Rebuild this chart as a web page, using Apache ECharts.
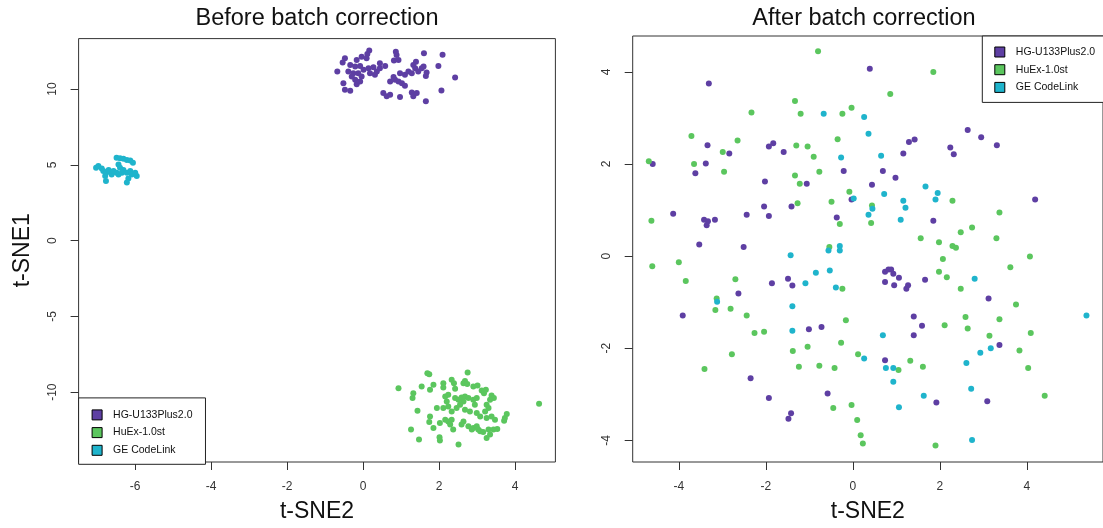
<!DOCTYPE html>
<html>
<head>
<meta charset="utf-8">
<script src="https://cdn.jsdelivr.net/npm/echarts@6/dist/echarts.min.js"></script>
<style>
html,body{margin:0;padding:0;background:#fff;}
#chart{width:1103px;height:528px;}
</style>
</head>
<body>
<div id="chart"></div>
<script>
// ---- Data ----
const seriesNames = ['HG-U133Plus2.0', 'HuEx-1.0st', 'GE CodeLink'];
const panelTitles = ['Before batch correction', 'After batch correction'];
const xTicksLeft = [-6, -4, -2, 0, 2, 4];
const yTicksLeft = [-10, -5, 0, 5, 10];
const xTicksRight = [-4, -2, 0, 2, 4];
const yTicksRight = [-4, -2, 0, 2, 4];

// Before batch correction
const beforePurple = [
  [0.16,12.54],[0.11,12.32],[0.86,12.47],[0.88,12.25],[1.60,12.36],[2.09,12.27],[-0.48,12.03],[-0.04,12.14],
  [0.09,12.03],[0.44,11.70],[0.81,11.88],[0.93,11.92],[1.98,11.53],[1.39,11.81],[1.32,11.59],[1.37,11.38],
  [-0.54,11.75],[-0.34,11.59],[-0.21,11.49],[-0.08,11.53],[0.01,11.27],[0.14,11.38],[0.27,11.44],[0.36,11.16],
  [0.58,11.53],[-0.68,11.16],[-0.39,11.16],[-0.26,11.05],[-0.13,11.05],[-0.04,10.83],[0.18,11.05],[0.31,10.94],
  [0.97,11.05],[1.10,10.94],[1.19,11.16],[1.28,11.05],[1.45,11.16],[1.54,11.38],[1.59,11.49],[1.65,10.87],
  [1.67,11.09],[0.71,10.50],[0.84,10.61],[0.93,10.50],[1.02,10.39],[1.10,10.22],[0.80,10.79],[2.42,10.76],
  [-0.52,10.39],[-0.48,9.95],[-0.34,9.89],[-0.17,10.31],[-0.21,10.61],[-0.08,10.50],[0.53,9.74],[0.62,9.52],
  [0.71,9.63],[0.97,9.47],[1.28,9.78],[1.32,9.52],[1.65,9.19],[2.06,9.91],[0.44,11.38],[-0.17,11.92],
  [-0.30,10.83],[1.41,9.74]
];
const beforeGreen = [
  [1.69,-8.75],[1.74,-8.82],[2.75,-8.71],[0.93,-9.74],[1.32,-10.07],[1.30,-10.39],[1.54,-9.63],[1.76,-9.85],
  [1.85,-9.52],[2.11,-9.41],[2.11,-9.69],[2.33,-9.19],[2.39,-9.41],[2.42,-9.78],[2.64,-9.41],[2.68,-9.26],
  [2.74,-9.47],[2.90,-9.63],[3.01,-9.56],[3.12,-9.89],[3.18,-10.07],[3.23,-9.85],[3.38,-10.22],[3.44,-10.39],
  [3.34,-10.50],[2.16,-10.28],[2.24,-10.18],[2.20,-10.61],[2.42,-10.39],[2.51,-10.50],[2.59,-10.35],[2.68,-10.28],
  [2.77,-10.39],[2.64,-10.61],[2.55,-10.83],[2.90,-10.50],[2.99,-10.39],[2.94,-10.83],[3.25,-10.83],[3.30,-11.05],
  [3.21,-11.27],[1.43,-11.23],[1.76,-11.60],[1.94,-11.05],[2.11,-11.05],[2.24,-10.94],[2.33,-11.27],[2.46,-11.05],
  [2.68,-11.16],[2.81,-11.27],[2.99,-11.38],[3.08,-11.60],[3.25,-11.71],[3.38,-11.60],[3.47,-11.82],[3.78,-11.44],
  [3.73,-11.71],[3.71,-11.88],[1.74,-11.97],[1.85,-12.36],[2.02,-12.03],[2.16,-11.82],[2.24,-11.93],[2.33,-11.82],
  [2.29,-12.14],[2.37,-12.47],[2.64,-11.93],[2.59,-12.14],[2.77,-12.25],[2.86,-12.47],[2.90,-12.36],[2.99,-12.25],
  [3.03,-12.47],[3.08,-12.58],[3.16,-12.63],[3.30,-12.47],[3.34,-12.80],[3.25,-13.02],[3.43,-12.47],[3.53,-12.43],
  [1.26,-12.47],[1.47,-13.13],[2.01,-12.98],[2.02,-13.19],[2.51,-13.46],[4.63,-10.77]
];
const beforeCyan = [
  [-7.03,4.81],[-6.97,4.92],[-6.88,4.75],[-6.84,4.59],[-6.77,4.48],[-6.70,4.66],[-6.66,4.53],[-6.62,4.37],
  [-6.79,4.27],[-6.77,3.94],[-6.49,5.47],[-6.40,5.43],[-6.31,5.40],[-6.22,5.32],[-6.13,5.29],[-6.06,5.14],
  [-6.44,5.03],[-6.40,4.81],[-6.31,4.66],[-6.35,4.48],[-6.49,4.48],[-6.44,4.37],[-6.22,4.48],[-6.13,4.59],
  [-6.09,4.37],[-5.96,4.27],[-6.00,4.48],[-6.18,4.09],[-6.22,3.83],[-6.57,4.59]
];

// After batch correction
const afterPurple = [
  [-3.31,3.75],[-3.34,2.41],[-2.84,2.23],[-1.93,2.38],[-1.83,2.45],[-1.59,2.26],[-4.60,2.00],[-3.38,2.01],
  [-3.62,1.80],[-2.02,1.62],[-1.06,1.57],[-0.21,1.85],[-0.03,1.23],[-4.13,0.92],[-3.42,0.79],[-3.33,0.76],
  [-3.36,0.67],[-3.17,0.79],[-2.44,0.90],[-2.04,1.08],[-1.93,0.87],[-1.41,1.08],[-0.37,0.84],[-3.53,0.25],
  [-2.51,0.20],
  [0.39,4.07],[2.64,2.74],[2.95,2.58],[3.31,2.41],[1.29,2.48],[1.42,2.53],[2.24,2.36],[2.32,2.21],
  [1.16,2.23],[0.69,1.85],[0.98,1.70],[0.44,1.55],[4.19,1.23],[1.85,0.77],
  [-3.91,-1.29],[-2.63,-0.81],[-1.86,-0.59],[-1.49,-0.49],[-1.39,-0.64],[-1.01,-1.59],[-0.72,-1.54],[-2.35,-2.65],
  [-1.93,-3.08],[-1.42,-3.41],[-1.48,-3.53],[-0.58,-2.98],
  [0.74,-0.34],[0.82,-0.29],[0.88,-0.29],[0.93,-0.38],[1.06,-0.47],[0.74,-0.56],[0.95,-0.63],[1.23,-0.71],
  [1.27,-0.63],[1.66,-0.51],[3.12,-0.92],[1.40,-1.31],[1.59,-1.51],[1.40,-1.72],[3.37,-1.93],[0.74,-2.26],
  [1.92,-3.18],[3.09,-3.15]
];
const afterGreen = [
  [-0.80,4.45],[-1.33,3.37],[-2.33,3.12],[-1.20,3.09],[-0.24,3.09],[-0.03,3.22],[-3.71,2.61],[-2.65,2.51],
  [-2.99,2.26],[-1.30,2.40],[-1.04,2.38],[-0.35,2.54],[-0.90,2.16],[-4.69,2.06],[-3.65,2.00],[-2.96,1.83],
  [-0.77,1.83],[-1.33,1.75],[-1.22,1.57],[-0.08,1.40],[-0.49,1.18],[-1.27,1.15],[-0.30,0.70],[-4.63,0.77],
  [-0.54,0.20],
  [1.85,4.00],[0.86,3.52],[2.29,1.20],[3.37,0.95],[0.44,1.10],[0.42,0.72],[2.74,0.62],[2.48,0.52],
  [1.56,0.39],[1.98,0.30],[2.29,0.22],[2.37,0.18],[3.30,0.39],
  [-4.61,-0.22],[-4.00,-0.13],[-3.84,-0.54],[-2.70,-0.50],[-3.13,-0.92],[-3.16,-1.17],[-2.81,-1.14],[-2.44,-1.29],
  [-2.26,-1.67],[-2.04,-1.64],[-2.78,-2.13],[-3.41,-2.45],[-1.38,-2.06],[-1.04,-1.97],[-1.24,-2.40],[-0.77,-2.38],
  [-0.42,-2.43],[-0.27,-1.88],[-0.16,-1.39],[-0.24,-0.71],[0.12,-2.13],[-0.45,-3.30],[-0.03,-3.23],[0.10,-3.56],
  [0.18,-3.89],[0.23,-4.07],
  [2.07,-0.06],[4.07,-0.01],[3.62,-0.24],[1.98,-0.34],[2.16,-0.46],[2.48,-0.71],[3.75,-1.05],[2.59,-1.32],
  [3.37,-1.37],[2.11,-1.50],[2.64,-1.57],[4.09,-1.67],[3.14,-1.73],[3.83,-2.05],[1.32,-2.27],[1.61,-2.40],
  [1.05,-2.47],[4.03,-2.43],[4.41,-3.03],[1.90,-4.11]
];
const afterCyan = [
  [-0.67,3.09],[0.26,3.02],[-0.27,2.14],[0.02,1.25],
  [0.36,2.66],[0.65,2.18],[1.67,1.51],[1.95,1.37],[1.90,1.23],[0.72,1.35],[1.16,1.20],[1.21,1.05],
  [0.45,1.03],[0.36,0.90],[1.10,0.79],
  [-1.43,0.02],[-0.56,0.12],[-0.30,0.12],[-0.30,0.22],[-0.85,-0.36],[-0.53,-0.31],[-1.09,-0.59],[-0.39,-0.68],
  [-3.12,-0.99],[-1.39,-1.09],[-1.39,-1.62],[0.26,-2.22],
  [2.80,-0.49],[0.69,-1.72],[5.37,-1.29],[0.76,-2.43],[0.93,-2.43],[0.93,-2.73],[1.06,-3.28],[1.63,-3.03],
  [2.61,-2.32],[2.93,-2.10],[3.17,-2.00],[2.72,-2.88],[2.74,-3.99]
];

// ---- Chart ----
const colors = ['#5E3FA3', '#5BC65E', '#1FB4CC'];
const FONT = 'Liberation Sans, Arial, sans-serif';
const chart = echarts.init(document.getElementById('chart'), null, {renderer: 'canvas'});

function xAxisCfg(gi, min, max, ticks) {
  return {
    type: 'value', gridIndex: gi, min: min, max: max, position: 'bottom',
    name: 't-SNE2', nameLocation: 'middle', nameGap: 38,
    nameTextStyle: {fontFamily: FONT, fontSize: 23, color: '#111'},
    axisLine: {show: false, onZero: false},
    axisTick: {show: true, inside: false, length: 8, customValues: ticks, lineStyle: {color: '#333', width: 1}},
    axisLabel: {show: true, customValues: ticks, margin: 19, fontFamily: FONT, fontSize: 12, color: '#333'},
    splitLine: {show: false}
  };
}
function yAxisCfg(gi, min, max, ticks, name) {
  return {
    type: 'value', gridIndex: gi, min: min, max: max, position: 'left',
    name: name, nameLocation: 'middle', nameGap: 44,
    nameTextStyle: {fontFamily: FONT, fontSize: 23, color: '#111'},
    axisLine: {show: false, onZero: false},
    axisTick: {show: true, inside: false, length: 8, customValues: ticks, lineStyle: {color: '#333', width: 1}},
    axisLabel: {show: true, customValues: ticks, rotate: 90, margin: 20, fontFamily: FONT, fontSize: 12, color: '#333'},
    splitLine: {show: false}
  };
}
function scatter(name, data, gi, color) {
  return {
    type: 'scatter', name: name, data: data, xAxisIndex: gi, yAxisIndex: gi,
    symbol: 'circle', symbolSize: 6, itemStyle: {color: color, opacity: 1},
    emphasis: {disabled: true}, animation: false
  };
}
function legendCfg(pos) {
  return Object.assign({
    orient: 'vertical', selectedMode: false, data: seriesNames,
    icon: 'rect', itemWidth: 10, itemHeight: 10, itemGap: 5.7,
    itemStyle: {borderColor: '#000', borderWidth: 1},
    backgroundColor: '#fff', borderColor: '#222', borderWidth: 1, borderRadius: 0,
    textStyle: {fontFamily: FONT, fontSize: 10.5, lineHeight: 12, color: '#111', padding: [0, 0, 0, 6]}
  }, pos);
}

const option = {
  backgroundColor: '#fff',
  animation: false,
  color: colors,
  title: [
    {text: panelTitles[0], left: 317, top: 7, textAlign: 'center', padding: 0,
     textStyle: {fontFamily: FONT, fontSize: 23.5, fontWeight: 'normal', color: '#111'}},
    {text: panelTitles[1], left: 864, top: 7, textAlign: 'center', padding: 0,
     textStyle: {fontFamily: FONT, fontSize: 23.5, fontWeight: 'normal', color: '#111'}}
  ],
  grid: [
    {left: 78.6, top: 38.6, width: 476.8, height: 425.7, show: true, borderColor: '#333', borderWidth: 1, backgroundColor: 'transparent'},
    {left: 632.7, top: 36, width: 476, height: 427.3, show: true, borderColor: '#333', borderWidth: 1, backgroundColor: 'transparent'}
  ],
  xAxis: [xAxisCfg(0, -7.49, 5.06, xTicksLeft), xAxisCfg(1, -5.06, 5.75, xTicksRight)],
  yAxis: [yAxisCfg(0, -14.61, 13.33, yTicksLeft, 't-SNE1'), yAxisCfg(1, -4.47, 4.78, yTicksRight, '')],
  legend: [
    legendCfg({left: 78.6, bottom: 63.7, padding: [11, 13, 8, 13]}),
    legendCfg({left: 982.3, top: 36, padding: [10, 40, 9, 12]})
  ],
  series: [
    scatter(seriesNames[0], beforePurple, 0, colors[0]),
    scatter(seriesNames[1], beforeGreen, 0, colors[1]),
    scatter(seriesNames[2], beforeCyan, 0, colors[2]),
    scatter(seriesNames[0], afterPurple, 1, colors[0]),
    scatter(seriesNames[1], afterGreen, 1, colors[1]),
    scatter(seriesNames[2], afterCyan, 1, colors[2])
  ]
};
chart.setOption(option);
</script>
</body>
</html>
